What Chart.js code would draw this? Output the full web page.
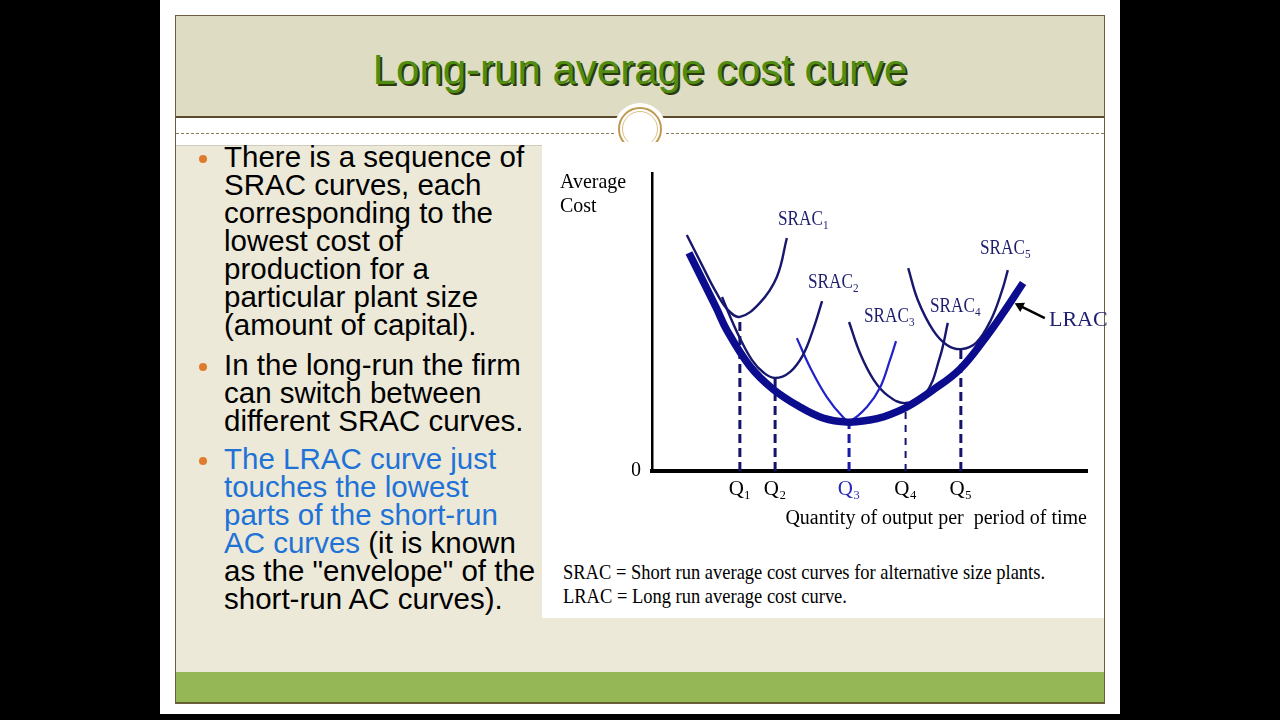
<!DOCTYPE html>
<html>
<head>
<meta charset="utf-8">
<script src="https://cdn.jsdelivr.net/npm/chart.js@4.4.1/dist/chart.umd.min.js"></script>
<style>
html,body{margin:0;padding:0;background:#000;width:1280px;height:720px;overflow:hidden;}
.a{position:absolute;}
#slide{left:160px;top:0;width:960px;height:714px;background:#fff;}
#frame{left:175px;top:15px;width:928px;height:687px;border:1px solid #6d5f3e;}
#band{left:176px;top:16px;width:928px;height:100px;background:#dfdcc4;border-bottom:2px solid #5c4b2c;}
#title{left:176px;top:45px;width:928px;height:50px;line-height:50px;text-align:center;font-family:"Liberation Sans",Arial,sans-serif;font-size:42px;color:#4f8c10;text-shadow:2px 2px 0 #2b3a0c;}
#dash{left:176px;top:133px;width:928px;height:0;border-top:1px dashed #8c7d55;}
#ringclip{left:600px;top:98px;width:80px;height:44px;overflow:hidden;}
.ring{position:absolute;border-radius:50%;box-sizing:border-box;}
#content{left:176px;top:145px;width:928px;height:527px;background:#ece9d8;border-top:1px solid #cfccbc;}
#box{left:542px;top:145px;width:562px;height:473px;background:#fff;}
#footer{left:176px;top:672px;width:928px;height:30px;background:#95b755;border-bottom:2px solid #5d6030;}
.txt{font-family:"Liberation Sans",Arial,sans-serif;font-size:29.5px;line-height:28px;color:#000;white-space:nowrap;left:224px;}
.blue{color:#1f72d6;}
.dot{width:8px;height:8px;border-radius:50%;background:#e07b2e;left:199px;}
.ser{font-family:"Liberation Serif","Times New Roman",serif;white-space:nowrap;}
.lbl{font-size:20px;line-height:18px;color:#1e1e6e;transform:scaleX(0.86);transform-origin:0 0;}
.lbl sub{font-size:13px;line-height:0;vertical-align:-4px;}
#cv{left:542px;top:145px;}
</style>
</head>
<body>
<div class="a" id="slide"></div>
<div class="a" id="content"></div>
<div class="a" id="box"></div>
<div class="a" id="footer"></div>
<div class="a" id="band"></div>
<div class="a" id="frame"></div>
<div class="a" id="title">Long-run average cost curve</div>
<div class="a" id="dash"></div>
<div class="a" id="ringclip">
  <div class="ring" style="left:14px;top:5px;width:52px;height:52px;background:#fff;"></div>
  <div class="ring" style="left:18px;top:9px;width:44px;height:44px;border:2.5px solid #c09a50;"></div>
  <div class="ring" style="left:22px;top:13px;width:36px;height:36px;border:1.5px solid #d9bf84;"></div>
</div>

<div class="a dot" style="top:155px;"></div>
<div class="a txt" style="top:143px;">There is a sequence of<br>SRAC curves, each<br>corresponding to the<br>lowest cost of<br>production for a<br>particular plant size<br>(amount of capital).</div>
<div class="a dot" style="top:363px;"></div>
<div class="a txt" style="top:351px;">In the long-run the firm<br>can switch between<br>different SRAC curves.</div>
<div class="a dot" style="top:457px;"></div>
<div class="a txt" style="top:445px;"><span class="blue">The LRAC curve just<br>touches the lowest<br>parts of the short-run<br>AC curves</span> (it is known<br>as the "envelope" of the<br>short-run AC curves).</div>

<canvas class="a" id="cv" width="562" height="400"></canvas>

<div class="a ser" style="left:560px;top:169px;font-size:21px;line-height:24px;color:#000;transform:scaleX(0.95);transform-origin:0 0;">Average<br>Cost</div>
<div class="a ser lbl" style="left:778px;top:209px;">SRAC<sub>1</sub></div>
<div class="a ser lbl" style="left:808px;top:272px;">SRAC<sub>2</sub></div>
<div class="a ser lbl" style="left:864px;top:306px;">SRAC<sub>3</sub></div>
<div class="a ser lbl" style="left:930px;top:296px;">SRAC<sub>4</sub></div>
<div class="a ser lbl" style="left:980px;top:238px;">SRAC<sub>5</sub></div>
<div class="a ser" style="left:1049px;top:308px;font-size:22px;line-height:22px;color:#1e1e6e;">LRAC</div>
<div class="a ser" style="left:563px;top:561px;font-size:21px;line-height:23.5px;color:#000;transform:scaleX(0.88);transform-origin:0 0;">SRAC = Short run average cost curves for alternative size plants.<br>LRAC = Long run average cost curve.</div>

<script>
// ---- data (x: quantity units 0-100, y: average cost units 0-100) ----
const qLabels = ['Q\u2081', 'Q\u2082', 'Q\u2083', 'Q\u2084', 'Q\u2085'];
const qValues = [20.2, 28.3, 45.3, 58.3, 71.0];
const qTops   = [51.7, 31.2, 16.8, 22.8, 40.9];
const yTickLabels = ['0'];
const xTitle = 'Quantity of output per  period of time';

const lracX  = [8.5, 14.7, 17.2, 22.5, 27.8, 34.0, 39.3, 44.8, 50.1, 53.1, 58.6, 64.6, 70.8, 76.6, 80.9, 85.3];
const lracY  = [73.2, 55.0, 47.3, 35.2, 27.5, 21.5, 17.8, 16.4, 17.1, 18.1, 21.5, 27.2, 34.2, 44.6, 53.4, 63.1];
const srac1X = [8.0, 11.5, 14.7, 17.5, 20.2, 24.8, 28.7, 31.0];
const srac1Y = [79.2, 69.1, 60.1, 54.0, 51.7, 56.4, 65.1, 78.2];
const srac2X = [16.1, 17.9, 20.2, 23.0, 25.5, 28.3, 31.7, 34.7, 37.0, 39.1];
const srac2Y = [58.4, 52.0, 44.6, 37.2, 33.2, 31.2, 33.2, 38.9, 47.3, 57.0];
const srac3X = [33.3, 36.3, 40.2, 43.9, 45.5, 49.4, 52.4, 54.7, 56.1];
const srac3Y = [44.6, 34.9, 24.8, 18.1, 16.8, 21.5, 27.9, 37.2, 43.6];
const srac4X = [45.3, 47.8, 51.0, 54.3, 58.2, 62.8, 66.2, 68.0];
const srac4Y = [50.0, 39.6, 30.5, 25.2, 22.8, 25.8, 38.3, 49.7];
const srac5X = [58.9, 61.1, 64.6, 67.8, 71.0, 74.5, 77.9, 80.5, 81.8];
const srac5Y = [68.1, 57.4, 47.3, 42.3, 40.9, 43.0, 50.7, 60.7, 67.4];
const arrowX = [90.3, 84.6];
const arrowY = [51.3, 55.4];

const pts = (xs, ys) => xs.map((x, i) => ({x: x, y: ys[i]}));
const curve = (xs, ys, color, width) => ({
  data: pts(xs, ys), borderColor: color, borderWidth: width, pointRadius: 0,
  tension: 0.4, fill: false, clip: false
});

const datasets = [];
datasets.push(curve(lracX, lracY, '#0c0c8e', 7.5));
datasets.push({
  data: pts(arrowX, arrowY), borderColor: '#000', borderWidth: 2.5, tension: 0,
  pointRadius: [0, 6], pointStyle: 'triangle', pointRotation: -63,
  pointBackgroundColor: '#000', pointBorderWidth: 0, fill: false, clip: false
});
datasets.push(curve(srac1X, srac1Y, '#17176e', 2.4));
datasets.push(curve(srac2X, srac2Y, '#17176e', 2.4));
datasets.push(curve(srac3X, srac3Y, '#2222c8', 2.2));
datasets.push(curve(srac4X, srac4Y, '#17176e', 2.4));
datasets.push(curve(srac5X, srac5Y, '#17176e', 2.4));
qValues.forEach((q, i) => {
  datasets.push({
    data: [{x: q, y: 0}, {x: q, y: qTops[i]}],
    borderColor: i === 2 ? '#1a1aa8' : '#14146a',
    borderWidth: i === 3 ? 2 : 3,
    borderDash: i === 3 ? [7, 6] : [9, 5],
    pointRadius: 0, tension: 0, fill: false, clip: false
  });
});

const serif = "'Liberation Serif', 'Times New Roman', serif";

new Chart(document.getElementById('cv').getContext('2d'), {
  type: 'line',
  data: { datasets: datasets },
  options: {
    responsive: false,
    animation: false,
    events: [],
    layout: { padding: { left: 90, top: 28, right: 17, bottom: 14 } },
    plugins: { legend: { display: false }, tooltip: { enabled: false } },
    scales: {
      x: {
        type: 'linear', min: 0, max: 100,
        grid: { display: false, drawTicks: false },
        border: { display: true, color: '#000', width: 4 },
        afterBuildTicks: s => { s.ticks = qValues.map(v => ({ value: v })); },
        afterFit: s => { s.height = 60; },
        ticks: {
          autoSkip: false, maxRotation: 0, minRotation: 0, padding: 6,
          font: { family: serif, size: 21 },
          color: c => (c.index === 2 ? '#2a2ab8' : '#000'),
          callback: (v, i) => qLabels[i]
        },
        title: {
          display: true, text: xTitle, align: 'end', color: '#000',
          font: { family: serif, size: 20 }, padding: { top: 0, bottom: 0 }
        }
      },
      y: {
        type: 'linear', min: 0, max: 100,
        grid: { display: false, drawTicks: false },
        border: { display: true, color: '#000', width: 2.5 },
        afterBuildTicks: s => { s.ticks = [{ value: 0 }]; },
        afterFit: s => { s.width = 20; },
        ticks: {
          padding: 11, color: '#000',
          font: { family: serif, size: 20 },
          callback: (v, i) => yTickLabels[i]
        }
      }
    }
  }
});
</script>
</body>
</html>
